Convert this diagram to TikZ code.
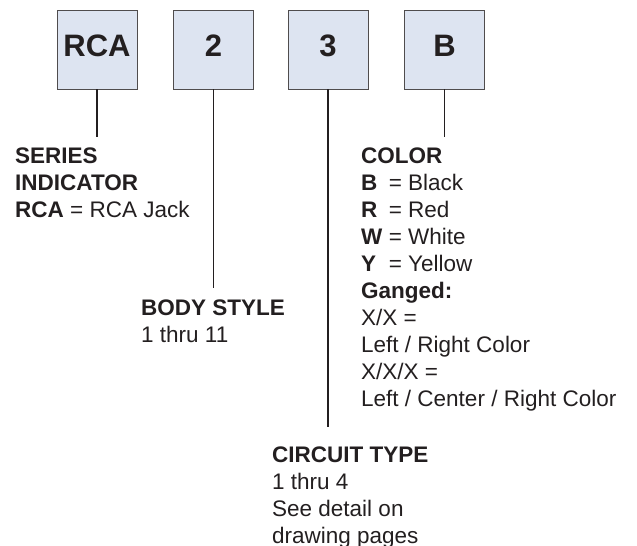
\documentclass[tikz,border=0pt]{standalone}
\usepackage{fontspec}
\setmainfont{Liberation Sans}
\usetikzlibrary{positioning}
\definecolor{boxfill}{HTML}{DDE4F1}
\definecolor{ink}{HTML}{231F20}
\newcommand{\ckey}[1]{\makebox[0.95em][l]{\textbf{#1}}}

\begin{document}
\begin{tikzpicture}[x=1pt,y=-1pt,
  part/.style={draw=ink!80,fill=boxfill,line width=0.9pt,minimum width=80pt,minimum height=79pt,
    inner sep=0pt,text depth=7pt,text=ink,font=\fontsize{31}{31}\selectfont\bfseries},
  lbl/.style={anchor=north west,inner sep=0pt,align=left,text=ink,font=\fontsize{22.5}{27}\selectfont},
  lead/.style={draw=ink,line width=1.8pt}]
  \useasboundingbox (0,0) rectangle (637,546);
  \node[part] (series) at (97,49.5) {RCA};
  \node[part] (body) at (213.5,49.5) {2};
  \node[part] (circuit) at (328,49.5) {3};
  \node[part] (color) at (444.5,49.5) {B};
  \node[lbl] (serieslbl) at (15,148) {\textbf{SERIES}\\\textbf{INDICATOR}\\\textbf{RCA} = RCA Jack};
  \node[lbl] (bodylbl) at (141,300) {\textbf{BODY STYLE}\\1 thru 11};
  \node[lbl] (circuitlbl) at (272,447) {\textbf{CIRCUIT TYPE}\\1 thru 4\\See detail on\\drawing pages};
  \node[lbl] (colorlbl) at (361,148) {\textbf{COLOR}\\\ckey{B} = Black\\\ckey{R} = Red\\\ckey{W} = White\\\ckey{Y} = Yellow\\
    \textbf{Ganged:}\\X/X =\\Left / Right Color\\X/X/X =\\Left / Center / Right Color};
  \coordinate (seriesend) at (97,137);
  \coordinate (bodyend) at (213.5,288);
  \coordinate (circuitend) at (328,427);
  \coordinate (colorend) at (444.5,137);
  \draw[lead] (series.south) -- (seriesend);
  \draw[lead] (body.south) -- (bodyend);
  \draw[lead] (circuit.south) -- (circuitend);
  \draw[lead] (color.south) -- (colorend);
\end{tikzpicture}
\end{document}
